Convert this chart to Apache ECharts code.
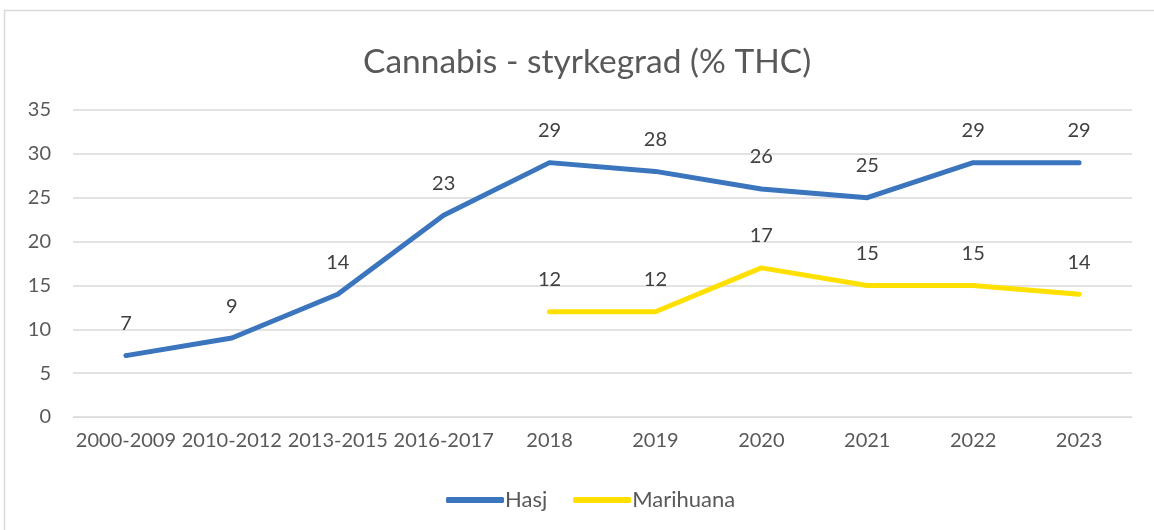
<!DOCTYPE html>
<html>
<head>
<meta charset="utf-8">
<script src="https://cdn.jsdelivr.net/npm/echarts@6/dist/echarts.min.js"></script>
<style>
	html, body { margin:0; padding:0; background:#fff; }
	#chart { width:1154px; height:530px; }
</style>
</head>
<body>
<div id="chart"></div>
<script>
var categories = ['2000-2009','2010-2012','2013-2015','2016-2017','2018','2019','2020','2021','2022','2023'];
var hasj = [7, 9, 14, 23, 29, 28, 26, 25, 29, 29];
var marihuana = [null, null, null, null, 12, 12, 17, 15, 15, 14];
var yTicks = [0, 5, 10, 15, 20, 25, 30, 35];

var font = 'Lato, "Open Sans", sans-serif';
var chart = echarts.init(document.getElementById('chart'));

var labelStyle = {
	show:true,
	position:'top',
	distance:20,
	color:'#404040',
	fontSize:20,
	fontFamily:font
};

chart.setOption({
	animation:false,
	backgroundColor:'#fff',
	graphic:[{
		type:'rect',
		shape:{x:4.5, y:10.5, width:1160, height:540},
		style:{fill:'none', stroke:'#d9d9d9', lineWidth:1.5},
		silent:true
	}],
	title:{
		text:'Cannabis - styrkegrad (% THC)',
		left:358,
		top:40,
		textStyle:{color:'#595959', fontSize:33.5, fontWeight:'normal', fontFamily:font}
	},
	legend:{
		bottom:14,
		left:441,
		itemWidth:58,
		itemHeight:6,
		itemGap:26,
		icon:'roundRect',
		textStyle:{color:'#595959', fontSize:22, fontFamily:font, padding:[0,0,0,-4]},
		data:['Hasj','Marihuana']
	},
	grid:{left:73, right:22, top:110, bottom:113},
	xAxis:{
		type:'category',
		data:categories,
		boundaryGap:true,
		axisLine:{show:true, lineStyle:{color:'#d9d9d9'}},
		axisTick:{show:false},
		axisLabel:{color:'#595959', fontSize:20, fontFamily:font, margin:14, interval:0}
	},
	yAxis:{
		type:'value',
		min:yTicks[0],
		max:yTicks[yTicks.length-1],
		interval:5,
		axisLine:{show:false},
		axisTick:{show:false},
		splitLine:{lineStyle:{color:'#d9d9d9', width:1.5}},
		axisLabel:{color:'#595959', fontSize:20, fontFamily:font, margin:22}
	},
	series:[{
		name:'Hasj',
		type:'line',
		data:hasj,
		symbol:'circle',
		symbolSize:4,
		showSymbol:true,
		lineStyle:{color:'#3a75bd', width:5, cap:'round', join:'round'},
		itemStyle:{color:'#3a75bd'},
		label:labelStyle
	},{
		name:'Marihuana',
		type:'line',
		data:marihuana,
		symbol:'circle',
		symbolSize:4,
		showSymbol:true,
		connectNulls:false,
		lineStyle:{color:'#ffe000', width:5, cap:'round', join:'round'},
		itemStyle:{color:'#ffe000'},
		label:labelStyle
	}]
});
</script>
</body>
</html>
